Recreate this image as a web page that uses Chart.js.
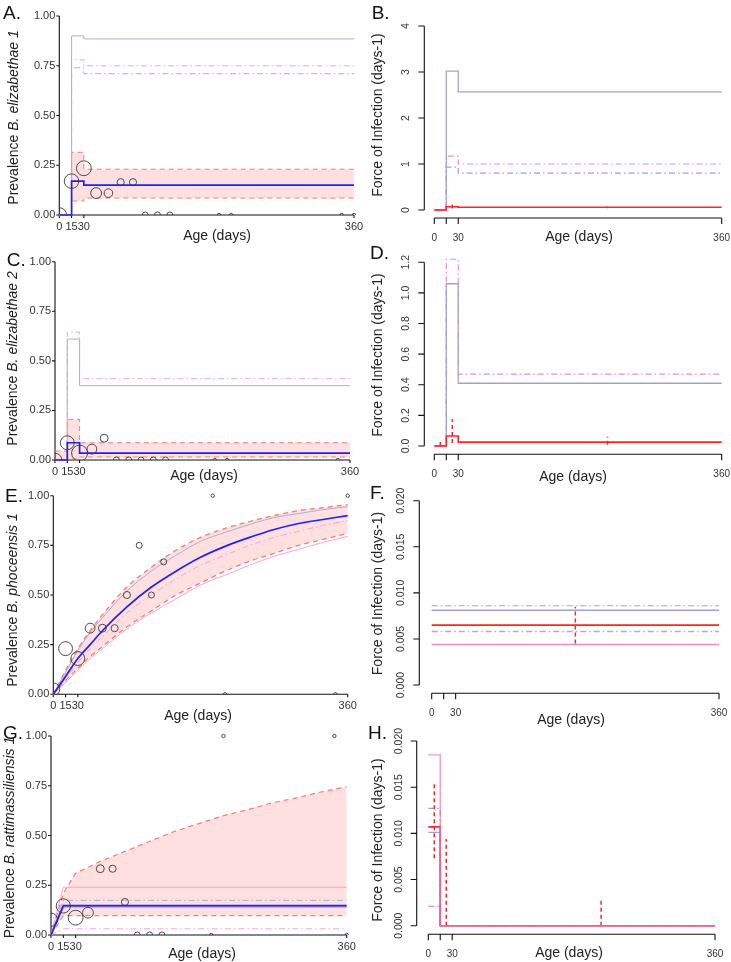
<!DOCTYPE html>
<html>
<head>
<meta charset="utf-8">
<script src="https://cdn.jsdelivr.net/npm/chart.js@4.4.1/dist/chart.umd.min.js"></script>
<style>
  body { margin: 0; background: #fff; }
  #fig { position: relative; width: 731px; height: 962px; overflow: hidden; background: #fff; }
  #fig canvas { position: absolute; }
</style>
</head>
<body>
<div id="fig"></div>
<script>
// ---- shared ticks / ages ----
const ageTicks = [0, 15, 30, 360];
const ageTickText = ['0', '15', '30', '360'];
const ageTickTextFoi = ['0', '', '30', '360'];
const prevTicks = [0, 0.25, 0.5, 0.75, 1];
const stepAges = [0, 15, 30, 360];
const curveAges = [0, 15, 30, 45, 60, 90, 120, 150, 180, 210, 240, 270, 300, 330, 360];
const sampleAges = [0, 15, 30, 45, 60, 75, 90, 105, 120, 135, 195, 210, 345, 360];

// ---- A. B. elizabethae 1 (prevalence) ----
const aBlue = [0, 0.17, 0.15, 0.15];
const aCiHigh = [0, 0.315, 0.23, 0.23];
const aCiLow = [0, 0.07, 0.085, 0.085];
const aLav = [0, 0.90, 0.885, 0.885];
const aPinkDd = [0, 0.78, 0.75, 0.75];
const aLavDd = [0, 0.74, 0.71, 0.71];
const aObs = [0, 0.17, 0.235, 0.11, 0.11, 0.165, 0.165, 0, 0, 0, 0, 0, 0, 0];
const aN = [19, 19, 20, 9, 5, 3, 3, 2, 2, 2, 1, 1, 1, 1];

// ---- B. force of infection ----
const bTicks = [0, 1, 2, 3, 4];
const bRed = [0, 0.07, 0.06, 0.06];
const bLav = [0, 3.02, 2.57, 2.57];
const bPinkDd = [0, 1.17, 1.0, 1.0];
const bLavDd = [0, 0.93, 0.80, 0.80];
const bErrAges = [22.5, 217];
const bErrLow = [0.035, 0.04];
const bErrHigh = [0.12, 0.075];

// ---- C. B. elizabethae 2 ----
const cAges = [0, 15, 30, 45, 60, 75, 90, 105, 120, 135, 195, 210, 345];
const cBlue = [0, 0.087, 0.035, 0.035];
const cCiHigh = [0.045, 0.205, 0.087, 0.087];
const cCiLow = [0, 0.005, 0.015, 0.015];
const cLav = [0, 0.61, 0.375, 0.375];
const cPinkDd = [0, 0.645, 0.41, 0.41];
const cObs = [0, 0.087, 0.035, 0.055, 0.11, 0, 0, 0, 0, 0, 0, 0, 0];
const cN = [16, 17, 24, 7, 4, 2, 2, 2, 2, 2, 1, 1, 1];

// ---- D. force of infection ----
const dTicks = [0, 0.2, 0.4, 0.6, 0.8, 1.0, 1.2];
const dRed = [0, 0.065, 0.025, 0.025];
const dLav = [0, 1.06, 0.41, 0.41];
const dPinkDd = [0, 1.22, 0.47, 0.47];
const dErrAges = [7.5, 22.5, 217];
const dErrLow = [0, 0.02, 0.008];
const dErrHigh = [0.04, 0.175, 0.06];

// ---- E. B. phoceensis 1 ----
const eBlue = [0, 0.09, 0.18, 0.25, 0.32, 0.44, 0.54, 0.62, 0.69, 0.745, 0.79, 0.83, 0.86, 0.88, 0.90];
const eCiHigh = [0, 0.12, 0.23, 0.32, 0.40, 0.54, 0.64, 0.725, 0.79, 0.835, 0.87, 0.90, 0.925, 0.94, 0.955];
const eCiLow = [0, 0.07, 0.13, 0.19, 0.24, 0.34, 0.42, 0.50, 0.56, 0.62, 0.67, 0.71, 0.75, 0.78, 0.81];
const eLav = [0, 0.11, 0.22, 0.31, 0.385, 0.52, 0.62, 0.70, 0.77, 0.815, 0.855, 0.89, 0.91, 0.93, 0.945];
const ePinkDd = [0, 0.08, 0.16, 0.23, 0.29, 0.41, 0.50, 0.58, 0.65, 0.70, 0.75, 0.79, 0.82, 0.85, 0.875];
const ePink = [0, 0.06, 0.12, 0.18, 0.23, 0.33, 0.41, 0.48, 0.55, 0.60, 0.65, 0.695, 0.73, 0.765, 0.795];
const eObs = [0.025, 0.23, 0.18, 0.333, 0.333, 0.333, 0.5, 0.75, 0.5, 0.667, 1, 0, 0, 1];
const eN = [14, 17, 17, 7, 4, 3, 3, 2, 2, 2, 1, 1, 1, 1];

// ---- F. force of infection ----
const fTicks = [0, 0.005, 0.010, 0.015, 0.020];
const fRed = [0.0065, 0.0065, 0.0065, 0.0065];
const fLav = [0.0081, 0.0081, 0.0081, 0.0081];
const fLavDd = [0.0086, 0.0086, 0.0086, 0.0086];
const fPinkDd = [0.0058, 0.0058, 0.0058, 0.0058];
const fPink = [0.0044, 0.0044, 0.0044, 0.0044];
const fErrAges = [180];
const fErrLow = [0.0045];
const fErrHigh = [0.0085];

// ---- G. B. rattimassiliensis 1 ----
const gBlue = [0, 0.148, 0.148, 0.148, 0.148, 0.148, 0.148, 0.148, 0.148, 0.148, 0.148, 0.148, 0.148, 0.148, 0.148];
const gLav = [0, 0.142, 0.142, 0.142, 0.142, 0.142, 0.142, 0.142, 0.142, 0.142, 0.142, 0.142, 0.142, 0.142, 0.142];
const gPink = [0, 0.24, 0.24, 0.24, 0.24, 0.24, 0.24, 0.24, 0.24, 0.24, 0.24, 0.24, 0.24, 0.24, 0.24];
const gLavDd = [0, 0.174, 0.174, 0.174, 0.174, 0.174, 0.174, 0.174, 0.174, 0.174, 0.174, 0.174, 0.174, 0.174, 0.174];
const gPinkDd = [0, 0.031, 0.031, 0.031, 0.031, 0.031, 0.031, 0.031, 0.031, 0.031, 0.031, 0.031, 0.031, 0.031, 0.031];
const gCiHigh = [0, 0.21, 0.31, 0.34, 0.37, 0.42, 0.47, 0.52, 0.56, 0.60, 0.63, 0.665, 0.69, 0.72, 0.745];
const gCiLow = [0, 0.097, 0.097, 0.097, 0.097, 0.097, 0.097, 0.097, 0.097, 0.097, 0.097, 0.097, 0.097, 0.097, 0.097];
const gObs = [0.077, 0.146, 0.087, 0.112, 0.333, 0.333, 0.166, 0, 0, 0, 0, 1, 1, 0];
const gN = [15, 18, 20, 9, 4, 3, 3, 2, 2, 2, 1, 1, 1, 1];

// ---- H. force of infection ----
const hTicks = [0, 0.005, 0.010, 0.015, 0.020];
const hRed = [0.0107, 0, 0, 0];
const hPink = [0.0185, 0, 0, 0];
const hLavDd = [0.0127, 0, 0, 0];
const hLav = [0.0101, 0, 0, 0];
const hPinkDd = [0.0021, 0, 0, 0];
const hErrAges = [7.5, 22.5, 217];
const hErrLow = [0.0073, 0, 0];
const hErrHigh = [0.0155, 0.0094, 0.003];

// ---- styles ----
const FONT = '"Liberation Sans", Arial, Helvetica, sans-serif';
const BLUE = '#2020ff';
const LAV = '#adadda';
const PINK = '#f4a4d2';
const CIRED = '#ff7878';
const FILL = 'rgba(250,100,100,0.2)';
const RED = '#ff2424';
const LAVR = '#a2a2d0';
const PINKR = '#ee8ccc';
const DASHDOT = [6, 3, 1.5, 3];
const DASHED = [5, 4];

function pts(xs, ys) {
  return xs.map((x, i) => ({ x: x, y: ys[i] }));
}
function line(xs, ys, color, extra) {
  return Object.assign({
    type: 'line', data: pts(xs, ys), borderColor: color, borderWidth: 1,
    pointRadius: 0, fill: false, clip: 6, tension: 0, order: 2
  }, extra || {});
}
function radiusFor(n) {
  // circle area scaled with sample size
  return 1.7 + 6.3 * Math.sqrt((n - 1) / 23);
}
function circles(ages, obs, n) {
  return {
    type: 'scatter', data: pts(ages, obs), showLine: false,
    pointRadius: n.map(radiusFor), borderColor: '#3a3a3a', borderWidth: 0.9,
    backgroundColor: 'rgba(0,0,0,0)', clip: { left: 0, top: 8, right: 8, bottom: 0 }, order: 0
  };
}
function errBars(ages, lo, hi) {
  return ages.map((a, i) => line([a, a], [lo[i], hi[i]], RED, { borderDash: [4, 3], borderWidth: 1.5, order: 1 }));
}

function drawRotated(ctx, x, y, parts, size) {
  ctx.save();
  ctx.translate(x, y);
  ctx.rotate(-Math.PI / 2);
  ctx.textBaseline = 'middle';
  ctx.textAlign = 'left';
  const fonts = parts.map(p => (p.italic ? 'italic ' : '') + size + 'px ' + FONT);
  const widths = parts.map((p, i) => { ctx.font = fonts[i]; return ctx.measureText(p.text).width; });
  let cx = -widths.reduce((s, w) => s + w, 0) / 2;
  parts.forEach((p, i) => { ctx.font = fonts[i]; ctx.fillText(p.text, cx, 0); cx += widths[i]; });
  ctx.restore();
}

const panelAxes = {
  id: 'panelAxes',
  beforeDatasetsDraw(chart, args, o) {
    const ctx = chart.ctx, a = chart.chartArea, xs = chart.scales.x, ys = chart.scales.y;
    ctx.save();
    ctx.strokeStyle = '#111';
    ctx.lineWidth = 1.1;
    ctx.beginPath();
    if (o.kind === 'gg') {
      ctx.moveTo(a.left, a.top);
      ctx.lineTo(a.left, a.bottom);
      ctx.lineTo(a.right, a.bottom);
      o.yTicks.forEach(v => { const y = ys.getPixelForValue(v); ctx.moveTo(a.left - 3, y); ctx.lineTo(a.left, y); });
      o.xTicks.forEach(v => { const x = xs.getPixelForValue(v); ctx.moveTo(x, a.bottom); ctx.lineTo(x, a.bottom + 3); });
    } else {
      const ax = o.yAxisX, ay = o.xAxisY;
      ctx.moveTo(ax, ys.getPixelForValue(o.yTicks[0]));
      ctx.lineTo(ax, ys.getPixelForValue(o.yTicks[o.yTicks.length - 1]));
      o.yTicks.forEach(v => { const y = ys.getPixelForValue(v); ctx.moveTo(ax - 6, y); ctx.lineTo(ax, y); });
      ctx.moveTo(xs.getPixelForValue(0), ay);
      ctx.lineTo(xs.getPixelForValue(360), ay);
      o.xTicks.forEach(v => { const x = xs.getPixelForValue(v); ctx.moveTo(x, ay); ctx.lineTo(x, ay + 6); });
    }
    ctx.stroke();
    ctx.restore();
  },
  afterDraw(chart, args, o) {
    const ctx = chart.ctx, a = chart.chartArea, xs = chart.scales.x, ys = chart.scales.y;
    ctx.save();
    ctx.fillStyle = '#333';
    if (o.kind === 'gg') {
      ctx.font = '11px ' + FONT;
      ctx.textAlign = 'right';
      ctx.textBaseline = 'middle';
      o.yTicks.forEach(v => ctx.fillText(v.toFixed(2), a.left - 4, ys.getPixelForValue(v)));
      ctx.textAlign = 'center';
      ctx.textBaseline = 'alphabetic';
      o.xTicks.forEach((v, i) => ctx.fillText(o.xText[i], xs.getPixelForValue(v), a.bottom + 15));
    } else {
      ctx.font = '10.5px ' + FONT;
      o.yTicks.forEach((v, i) => {
        drawRotated(ctx, o.yAxisX - 18, ys.getPixelForValue(v), [{ text: o.yText[i] }], 10.5);
      });
      ctx.font = '10px ' + FONT;
      ctx.textAlign = 'center';
      ctx.textBaseline = 'alphabetic';
      o.xTicks.forEach((v, i) => { if (o.xText[i]) ctx.fillText(o.xText[i], xs.getPixelForValue(v), o.xAxisY + 23); });
    }
    ctx.fillStyle = '#222';
    ctx.font = '14px ' + FONT;
    ctx.textAlign = 'center';
    ctx.textBaseline = 'alphabetic';
    ctx.fillText('Age (days)', o.ageX, o.ageBase);
    drawRotated(ctx, o.titleX, o.titleY, o.title, 14);
    ctx.fillStyle = '#111';
    ctx.font = '19px ' + FONT;
    ctx.textAlign = 'left';
    ctx.fillText(o.letter, o.letterX, o.letterBase);
    ctx.restore();
  }
};

const fig = document.getElementById('fig');
function makePanel(p) {
  const c = document.createElement('canvas');
  c.width = p.box.w;
  c.height = p.box.h;
  c.style.left = p.box.x + 'px';
  c.style.top = p.box.y + 'px';
  c.style.width = p.box.w + 'px';
  c.style.height = p.box.h + 'px';
  fig.appendChild(c);
  new Chart(c, {
    type: 'line',
    data: { datasets: p.datasets },
    options: {
      responsive: false,
      animation: false,
      devicePixelRatio: 1,
      events: [],
      layout: { padding: { left: p.area.l, top: p.area.t, right: p.box.w - p.area.r, bottom: p.box.h - p.area.b } },
      scales: {
        x: { type: 'linear', min: 0, max: 360, display: false },
        y: { type: 'linear', min: p.yMin, max: p.yMax, display: false }
      },
      plugins: {
        legend: { display: false },
        tooltip: { enabled: false },
        filler: { drawTime: 'beforeDatasetsDraw' },
        panelAxes: p.axes
      }
    },
    plugins: [panelAxes]
  });
}

function prevTitle(name) {
  return [{ text: 'Prevalence ' }, { text: name, italic: true }];
}
const foiTitle = [{ text: 'Force of Infection (days-1)' }];

// A
makePanel({
  box: { x: 0, y: 0, w: 365, h: 250 }, area: { l: 59.3, t: 16, r: 354, b: 215 }, yMin: 0, yMax: 1,
  datasets: [
    circles(sampleAges, aObs, aN),
    line(stepAges, aBlue, BLUE, { borderWidth: 1.7, stepped: true, order: 1 }),
    line(stepAges, aCiHigh, CIRED, { borderDash: DASHED, stepped: true, fill: '+1', backgroundColor: FILL, order: 5 }),
    line(stepAges, aCiLow, CIRED, { borderDash: DASHED, stepped: true, order: 5 }),
    line(stepAges, aLav, LAV, { stepped: true }),
    line(stepAges, aPinkDd, PINK, { borderDash: DASHDOT, stepped: true }),
    line(stepAges, aLavDd, LAV, { borderDash: DASHDOT, stepped: true })
  ],
  axes: { kind: 'gg', yTicks: prevTicks, xTicks: ageTicks, xText: ageTickText, ageX: 217, ageBase: 239.5,
    titleX: 14, titleY: 117.5, title: prevTitle('B. elizabethae 1'), letter: 'A.', letterX: 3, letterBase: 18.5 }
});

// B
makePanel({
  box: { x: 365, y: 0, w: 366, h: 250 }, area: { l: 69.3, t: 26, r: 356.7, b: 210 }, yMin: 0, yMax: 4,
  datasets: [
    line(stepAges, bRed, RED, { borderWidth: 1.6, stepped: true, order: 1 }),
    ...errBars(bErrAges, bErrLow, bErrHigh),
    line(stepAges, bLav, LAVR, { borderWidth: 1.3, stepped: true }),
    line(stepAges, bPinkDd, PINKR, { borderWidth: 1.2, borderDash: DASHDOT, stepped: true }),
    line(stepAges, bLavDd, LAVR, { borderWidth: 1.2, borderDash: DASHDOT, stepped: true })
  ],
  axes: { kind: 'r', yTicks: bTicks, yText: bTicks.map(v => v.toFixed(0)), xTicks: ageTicks, xText: ageTickTextFoi,
    yAxisX: 59.3, xAxisY: 218, ageX: 214, ageBase: 241, titleX: 13, titleY: 115, title: foiTitle,
    letter: 'B.', letterX: 6.7, letterBase: 18.5 }
});

// C
makePanel({
  box: { x: 0, y: 240, w: 365, h: 250 }, area: { l: 55, t: 21.7, r: 350, b: 220 }, yMin: 0, yMax: 1,
  datasets: [
    circles(cAges, cObs, cN),
    line(stepAges, cBlue, BLUE, { borderWidth: 1.7, stepped: true, order: 1 }),
    line(stepAges, cCiHigh, CIRED, { borderDash: DASHED, stepped: true, fill: '+1', backgroundColor: FILL, order: 5 }),
    line(stepAges, cCiLow, CIRED, { borderDash: DASHED, stepped: true, order: 5 }),
    line(stepAges, cLav, LAV, { stepped: true }),
    line(stepAges, cPinkDd, PINK, { borderDash: DASHDOT, stepped: true })
  ],
  axes: { kind: 'gg', yTicks: prevTicks, xTicks: ageTicks, xText: ageTickText, ageX: 204, ageBase: 240,
    titleX: 13, titleY: 118.5, title: prevTitle('B. elizabethae 2'), letter: 'C.', letterX: 6.7, letterBase: 26 }
});

// D
makePanel({
  box: { x: 365, y: 240, w: 366, h: 250 }, area: { l: 69.3, t: 22.3, r: 356.7, b: 206 }, yMin: 0, yMax: 1.2,
  datasets: [
    line(stepAges, dRed, RED, { borderWidth: 1.6, stepped: true, order: 1 }),
    ...errBars(dErrAges, dErrLow, dErrHigh),
    line(stepAges, dLav, LAVR, { borderWidth: 1.3, stepped: true }),
    line(stepAges, dPinkDd, PINKR, { borderWidth: 1.2, borderDash: DASHDOT, stepped: true })
  ],
  axes: { kind: 'r', yTicks: dTicks, yText: dTicks.map(v => v.toFixed(1)), xTicks: ageTicks, xText: ageTickTextFoi,
    yAxisX: 59.3, xAxisY: 214.3, ageX: 208, ageBase: 241, titleX: 13, titleY: 115, title: foiTitle,
    letter: 'D.', letterX: 5, letterBase: 18.5 }
});

// E
makePanel({
  box: { x: 0, y: 480, w: 365, h: 250 }, area: { l: 53.3, t: 15.7, r: 347.7, b: 214.3 }, yMin: 0, yMax: 1,
  datasets: [
    circles(sampleAges, eObs, eN),
    line(curveAges, eBlue, BLUE, { borderWidth: 1.7, cubicInterpolationMode: 'monotone', order: 1 }),
    line(curveAges, eCiHigh, CIRED, { borderDash: DASHED, borderWidth: 1.3, cubicInterpolationMode: 'monotone', fill: '+1', backgroundColor: FILL, order: 5 }),
    line(curveAges, eCiLow, CIRED, { borderDash: DASHED, borderWidth: 1.3, cubicInterpolationMode: 'monotone', order: 5 }),
    line(curveAges, eLav, LAV, { cubicInterpolationMode: 'monotone' }),
    line(curveAges, ePinkDd, PINK, { borderDash: DASHDOT, cubicInterpolationMode: 'monotone' }),
    line(curveAges, ePink, PINK, { cubicInterpolationMode: 'monotone' })
  ],
  axes: { kind: 'gg', yTicks: prevTicks, xTicks: ageTicks, xText: ageTickText, ageX: 198, ageBase: 240,
    titleX: 13, titleY: 120, title: prevTitle('B. phoceensis 1'), letter: 'E.', letterX: 5, letterBase: 22 }
});

// F
makePanel({
  box: { x: 365, y: 480, w: 366, h: 250 }, area: { l: 66.7, t: 20.7, r: 354, b: 205 }, yMin: 0, yMax: 0.02,
  datasets: [
    line(stepAges, fRed, RED, { borderWidth: 1.6, order: 1 }),
    ...errBars(fErrAges, fErrLow, fErrHigh),
    line(stepAges, fLav, LAVR, { borderWidth: 1.5 }),
    line(stepAges, fLavDd, LAVR, { borderWidth: 1.2, borderDash: DASHDOT }),
    line(stepAges, fPinkDd, PINKR, { borderWidth: 1.4, borderDash: DASHDOT }),
    line(stepAges, fPink, PINKR, { borderWidth: 1.4 })
  ],
  axes: { kind: 'r', yTicks: fTicks, yText: fTicks.map(v => v.toFixed(3)), xTicks: ageTicks, xText: ageTickTextFoi,
    yAxisX: 54.3, xAxisY: 213.3, ageX: 206, ageBase: 244, titleX: 13, titleY: 113.5, title: foiTitle,
    letter: 'F.', letterX: 5, letterBase: 18.5 }
});

// G
makePanel({
  box: { x: 0, y: 720, w: 365, h: 242 }, area: { l: 51, t: 16, r: 346.7, b: 215 }, yMin: 0, yMax: 1,
  datasets: [
    circles(sampleAges, gObs, gN),
    line(curveAges, gBlue, BLUE, { borderWidth: 1.7, order: 1 }),
    line(curveAges, gCiHigh, CIRED, { borderDash: DASHED, borderWidth: 1.2, fill: '+1', backgroundColor: FILL, order: 5 }),
    line(curveAges, gCiLow, CIRED, { borderDash: DASHED, borderWidth: 1.2, order: 5 }),
    line(curveAges, gLav, LAV, { borderWidth: 2 }),
    line(curveAges, gPink, PINK),
    line(curveAges, gLavDd, LAV, { borderDash: DASHDOT }),
    line(curveAges, gPinkDd, PINK, { borderDash: DASHDOT })
  ],
  axes: { kind: 'gg', yTicks: prevTicks, xTicks: ageTicks, xText: ageTickText, ageX: 202, ageBase: 237.5,
    titleX: 10, titleY: 117.5, title: prevTitle('B. rattimassiliensis 1'), letter: 'G.', letterX: 3, letterBase: 18.5 }
});

// H
makePanel({
  box: { x: 365, y: 720, w: 366, h: 242 }, area: { l: 63.3, t: 21, r: 350, b: 205.7 }, yMin: 0, yMax: 0.02,
  datasets: [
    line(stepAges, hPink, 'rgba(232,120,190,0.75)', { borderWidth: 1.4, stepped: true, order: 1 }),
    line(stepAges, hRed, RED, { borderWidth: 1.6, stepped: true, order: 1 }),
    ...errBars(hErrAges, hErrLow, hErrHigh),
    line(stepAges, hLav, LAVR, { borderWidth: 1.3, stepped: true }),
    line(stepAges, hLavDd, LAVR, { borderWidth: 1.2, borderDash: DASHDOT, stepped: true }),
    line(stepAges, hPinkDd, PINKR, { borderWidth: 1.2, borderDash: DASHDOT, stepped: true })
  ],
  axes: { kind: 'r', yTicks: hTicks, yText: hTicks.map(v => v.toFixed(3)), xTicks: ageTicks, xText: ageTickTextFoi,
    yAxisX: 51.7, xAxisY: 214.3, ageX: 204, ageBase: 236.5, titleX: 13, titleY: 120, title: foiTitle,
    letter: 'H.', letterX: 3, letterBase: 18.5 }
});
</script>
</body>
</html>
